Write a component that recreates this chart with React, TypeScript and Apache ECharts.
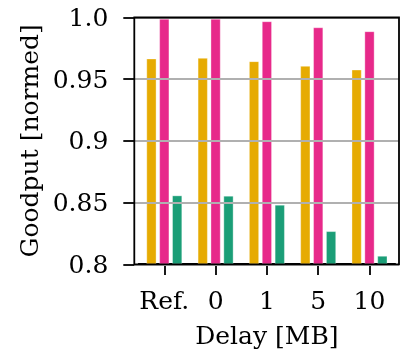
import React, { useEffect, useRef } from "react";
import * as echarts from "echarts";

const categories = ["Ref.", "0", "1", "5", "10"];
const seriesA = [0.9668, 0.9673, 0.9646, 0.9608, 0.9578];
const seriesB = [0.999, 0.999, 0.997, 0.9921, 0.9889];
const seriesC = [0.8557, 0.8554, 0.8481, 0.8267, 0.8067];
const yTickLabels = ["0.8", "0.85", "0.9", "0.95", "1.0"];
const colors = ["#e6ab02", "#e7298a", "#1b9e77"];

const FONT = "DejaVu Serif";

export default function App() {
  const ref = useRef<HTMLDivElement>(null);
  useEffect(() => {
    if (!ref.current) return;
    const chart = echarts.init(ref.current, null, { renderer: "svg" });
    const frame = { left: 134.3, right: 9, top: 17.5, bottom: 88.7 };
    const inner = { left: 138.65, right: 12.85, top: 17.5, bottom: 88.7 };
    const mkBar = (data: number[], color: string) => ({
      type: "bar",
      xAxisIndex: 1,
      yAxisIndex: 1,
      data,
      barWidth: 10.3,
      barGap: "25%",
      itemStyle: { color, borderColor: "rgba(255,255,255,0.35)", borderWidth: 1 },
      z: 2,
    });
    chart.setOption({
      animation: false,
      grid: [
        { ...frame, show: false },
        { ...inner, show: false },
      ],
      graphic: [
        {
          type: "rect",
          z: 100,
          shape: { x: 134.3, y: 17.5, width: 264.7, height: 246.8 },
          style: { fill: "none", stroke: "#000", lineWidth: 1.8 },
        },
      ],
      xAxis: [
        { type: "value", gridIndex: 0, show: false, min: 0, max: 1 },
        {
          type: "category",
          gridIndex: 1,
          data: categories,
          name: "Delay [MB]",
          nameLocation: "middle",
          nameGap: 59,
          nameTextStyle: { fontFamily: FONT, fontSize: 25, color: "#000" },
          axisLine: { show: true, lineStyle: { color: "#000", width: 1.8 } },
          axisTick: { show: true, alignWithLabel: true, length: 11, lineStyle: { color: "#000", width: 1.8 } },
          axisLabel: { fontFamily: FONT, fontSize: 25, color: "#000", margin: 24, interval: 0 },
          splitLine: { show: false },
        },
      ],
      yAxis: [
        {
          type: "value",
          gridIndex: 0,
          min: 0.8,
          max: 1.0,
          interval: 0.05,
          z: 5,
          name: "Goodput [normed]",
          nameLocation: "middle",
          nameGap: 91,
          nameTextStyle: { fontFamily: FONT, fontSize: 25, color: "#000" },
          axisLine: { show: false },
          axisTick: { show: true, length: 11, lineStyle: { color: "#000", width: 1.8 } },
          axisLabel: {
            fontFamily: FONT,
            fontSize: 25,
            color: "#000",
            margin: 26,
            formatter: (_v: number, i: number) => yTickLabels[i],
          },
          splitLine: { show: true, lineStyle: { color: "#b0b0b0", width: 2 } },
        },
        { type: "value", gridIndex: 1, min: 0.8, max: 1.0, show: false },
      ],
      series: [mkBar(seriesA, colors[0]), mkBar(seriesB, colors[1]), mkBar(seriesC, colors[2])],
    });
    return () => chart.dispose();
  }, []);
  return (
    <div
      ref={ref}
      style={{ position: "fixed", left: 0, top: 0, width: 408, height: 353 }}
    />
  );
}
